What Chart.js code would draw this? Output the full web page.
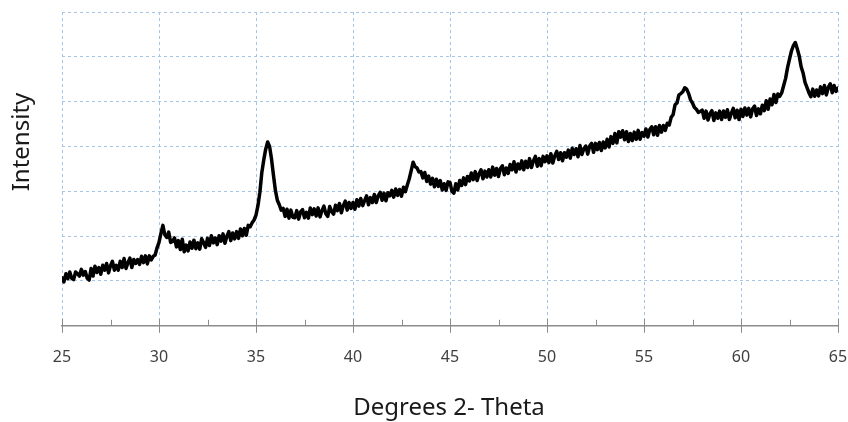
<!DOCTYPE html>
<html>
<head>
<meta charset="utf-8">
<script src="https://cdn.jsdelivr.net/npm/chart.js@4/dist/chart.umd.min.js"></script>
<style>
  html, body { margin: 0; padding: 0; background: #fff; }
  #wrap { width: 848px; height: 422px; position: relative; }
</style>
</head>
<body>
<div id="wrap"><canvas id="grafico"></canvas></div>
<script>
// scansione 2-theta: da 25 a 65 gradi, passo 0.1
const angoloIniziale = 25;
const passoAngolo = 0.1;

// intensita' (unita' arbitrarie), una riga per grado
const intensita = [
  107,  98, 116, 105, 120, 106, 103, 120, 116, 111,   // 25
  126, 113, 121, 106, 102, 128, 111, 133, 119, 130,   // 26
  115, 135, 124, 139, 118, 134, 144, 124, 135, 124,   // 27
  144, 130, 150, 128, 141, 151, 130, 148, 139, 148,   // 28
  137, 155, 141, 156, 138, 156, 147, 155, 158, 174,   // 29
  186, 206, 224, 203, 197, 209, 186, 188, 196, 176,   // 30
  190, 170, 193, 165, 180, 167, 187, 173, 191, 172,   // 31
  185, 171, 194, 185, 175, 195, 179, 201, 185, 196,   // 32
  181, 201, 189, 205, 184, 200, 210, 190, 207, 194,   // 33
  210, 195, 216, 201, 217, 202, 224, 221, 230, 236,   // 34
  247, 268, 298, 342, 370, 394, 410, 400, 372, 336,   // 35
  302, 280, 270, 258, 262, 244, 260, 240, 258, 242,   // 36
  241, 257, 238, 254, 259, 241, 253, 240, 263, 248,   // 37
  261, 245, 263, 243, 257, 267, 250, 244, 266, 255,   // 38
  249, 269, 257, 273, 252, 268, 278, 258, 275, 262,   // 39
  275, 260, 281, 267, 284, 268, 279, 290, 270, 286,   // 40
  275, 293, 275, 290, 298, 280, 296, 279, 297, 290,   // 41
  302, 287, 305, 291, 304, 289, 309, 299, 314, 328,   // 42
  346, 365, 355, 352, 343, 344, 330, 342, 322, 334,   // 43
  316, 329, 310, 327, 311, 324, 303, 317, 302, 321,   // 44
  320, 300, 296, 317, 303, 324, 313, 330, 315, 333,   // 45
  323, 341, 326, 344, 324, 339, 348, 328, 345, 332,   // 46
  348, 332, 354, 336, 351, 333, 351, 357, 337, 352,   // 47
  340, 360, 348, 366, 343, 361, 350, 368, 348, 367,   // 48
  353, 373, 353, 368, 378, 356, 373, 357, 378, 366,   // 49
  379, 364, 384, 363, 379, 389, 371, 386, 368, 386,   // 50
  376, 392, 374, 396, 382, 395, 377, 402, 382, 395,   // 51
  401, 383, 401, 407, 387, 407, 393, 409, 391, 410,   // 52
  397, 416, 399, 422, 407, 429, 408, 433, 421, 435,   // 53
  415, 433, 411, 429, 413, 432, 416, 436, 416, 431,   // 54
  423, 439, 421, 438, 444, 426, 444, 425, 447, 432,   // 55
  447, 436, 452, 448, 465, 471, 493, 497, 515, 518,   // 56
  522, 531, 528, 518, 504, 497, 487, 483, 476, 478,   // 57
  481, 463, 479, 459, 473, 480, 458, 475, 463, 479,   // 58
  460, 479, 465, 482, 460, 474, 485, 464, 481, 460,   // 59
  483, 467, 486, 470, 485, 466, 484, 490, 469, 484,   // 60
  473, 492, 480, 502, 483, 506, 493, 516, 498, 517,   // 61
  512, 520, 536, 552, 576, 595, 613, 625, 632, 618,   // 62
  602, 578, 564, 543, 532, 520, 511, 528, 512, 526,   // 63
  513, 533, 518, 536, 515, 532, 540, 520, 536, 523,   // 64
  530                                                 // 65
];

const tickAsseX = [25, 30, 35, 40, 45, 50, 55, 60, 65];
const tickAsseY = [0, 100, 200, 300, 400, 500, 600, 700];
const titoloX = 'Degrees 2- Theta';
const titoloY = 'Intensity';

const punti = intensita.map((v, i) => ({ x: +(angoloIniziale + i * passoAngolo).toFixed(1), y: v }));

const FONT = '"Noto Sans", "Open Sans", sans-serif';
const BLU_GRIGLIA = '#a3c6e8';
const GRIGIO_ASSE = '#8c8c8c';

// tacche dell'asse x e titoli degli assi
const decorazioni = {
  id: 'decorazioni',
  afterDraw(chart) {
    const ctx = chart.ctx;
    const sx = chart.scales.x;
    const area = chart.chartArea;
    const yAsse = area.bottom;
    ctx.save();
    ctx.strokeStyle = GRIGIO_ASSE;
    ctx.lineWidth = 1;
    tickAsseX.forEach((t, i) => {
      const px = Math.round(sx.getPixelForValue(t)) + 0.5;
      ctx.beginPath();
      ctx.moveTo(px, yAsse - 7);
      ctx.lineTo(px, yAsse + 7);
      ctx.stroke();
      if (i < tickAsseX.length - 1) {
        const pm = Math.round(sx.getPixelForValue(t + 2.5)) + 0.5;
        ctx.beginPath();
        ctx.moveTo(pm, yAsse - 6);
        ctx.lineTo(pm, yAsse);
        ctx.stroke();
      }
    });
    ctx.fillStyle = '#1a1a1a';
    ctx.font = '24px ' + FONT;
    ctx.textAlign = 'center';
    ctx.textBaseline = 'middle';
    ctx.fillText(titoloX, 449, 408);
    ctx.translate(22, 142);
    ctx.rotate(-Math.PI / 2);
    ctx.fillText(titoloY, 0, 0);
    ctx.restore();
  }
};

new Chart(document.getElementById('grafico'), {
  type: 'line',
  data: {
    datasets: [{
      data: punti,
      borderColor: '#000',
      borderWidth: 3.5,
      borderJoinStyle: 'round',
      borderCapStyle: 'round',
      pointRadius: 0,
      tension: 0,
      fill: false
    }]
  },
  options: {
    responsive: true,
    maintainAspectRatio: false,
    animation: false,
    layout: { padding: { left: 62, right: 10, top: 12, bottom: 33 } },
    plugins: { legend: { display: false }, tooltip: { enabled: false } },
    scales: {
      x: {
        type: 'linear',
        min: 25,
        max: 65,
        afterBuildTicks: (s) => { s.ticks = tickAsseX.map(v => ({ value: v })); },
        afterFit: (s) => { s.paddingLeft = 0; s.paddingRight = 0; },
        grid: { color: BLU_GRIGLIA, drawTicks: false, lineWidth: 1 },
        border: { color: GRIGIO_ASSE, width: 1.5, dash: [3, 3] },
        ticks: { padding: 22, color: '#404040', font: { family: FONT, size: 16 }, maxRotation: 0 }
      },
      y: {
        min: 0,
        max: 700,
        afterBuildTicks: (s) => { s.ticks = tickAsseY.map(v => ({ value: v })); },
        grid: {
          color: (c) => c.tick && c.tick.value === 0 ? 'rgba(0,0,0,0)' : BLU_GRIGLIA,
          drawTicks: false,
          lineWidth: 1
        },
        border: { display: false, dash: [3, 3] },
        ticks: { display: false }
      }
    }
  },
  plugins: [decorazioni]
});
</script>
</body>
</html>
